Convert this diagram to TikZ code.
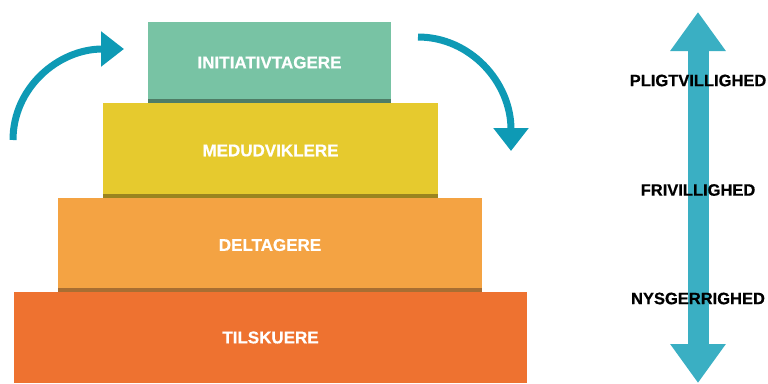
\documentclass[tikz,border=0pt]{standalone}
\usepackage{fontspec}
\setmainfont{Liberation Sans}
\newfontfamily\heavy[BoldFeatures={FakeBold=0.6}]{Liberation Sans}
\usetikzlibrary{arrows.meta}
\definecolor{cgreen}{HTML}{78C3A4}
\definecolor{cgreenD}{HTML}{4F7D66}
\definecolor{cyellow}{HTML}{E6CA2E}
\definecolor{cyellowD}{HTML}{9A8420}
\definecolor{corange}{HTML}{F4A343}
\definecolor{corangeD}{HTML}{A86E32}
\definecolor{cred}{HTML}{EE7230}
\definecolor{cteal}{HTML}{0E9AB5}
\definecolor{cteal2}{HTML}{3AAFC3}
\tikzset{
  level/.style={draw=none, inner sep=0pt, text=white,
    font=\heavy\fontsize{17}{17}\selectfont\bfseries},
  strip/.style={path picture={\fill[#1] (path picture bounding box.south west) rectangle ([yshift=4pt]path picture bounding box.south east);}},
  lab/.style={inner sep=0pt, text=black, font=\heavy\fontsize{16.5}{16.5}\selectfont\bfseries},
  curvearrow/.style={draw=cteal, line width=7pt, -{Triangle[width=34pt,length=23pt]}},
  axisarrow/.style={draw=cteal2, line width=21pt, {Triangle[width=53pt,length=39pt]}-{Triangle[width=53pt,length=39pt]}}
}
\begin{document}
\begin{tikzpicture}[x=1pt,y=-1pt]
\useasboundingbox (0,0) rectangle (768,383);
\node[level, fill=cgreen, strip=cgreenD, minimum width=243pt, minimum height=81pt] (init) at (269.5,62.5) {INITIATIVTAGERE};
\node[level, fill=cyellow, strip=cyellowD, minimum width=335pt, minimum height=95pt] (med) at (270.5,150.5) {MEDUDVIKLERE};
\node[level, fill=corange, strip=corangeD, minimum width=424pt, minimum height=94pt] (delt) at (270,245) {DELTAGERE};
\node[level, fill=cred, minimum width=513pt, minimum height=91pt] (tils) at (270.5,337.5) {TILSKUERE};
% curved arrows
\coordinate (la) at (13,140);
\coordinate (lb) at (124,49);
\draw[curvearrow] (la) .. controls (13,88) and (58,49) .. (lb);
\coordinate (ra) at (418,37);
\coordinate (rb) at (511,151);
\draw[curvearrow] (ra) .. controls (470,37) and (511,82) .. (rb);
% vertical axis
\coordinate (top) at (698,12);
\coordinate (bot) at (698,383);
\draw[axisarrow] (top) -- (bot);
\node[lab] (p) at (698,80.5) {PLIGTVILLIGHED};
\node[lab] (f) at (698,190) {FRIVILLIGHED};
\node[lab] (n) at (698,298.5) {NYSGERRIGHED};
\end{tikzpicture}
\end{document}
